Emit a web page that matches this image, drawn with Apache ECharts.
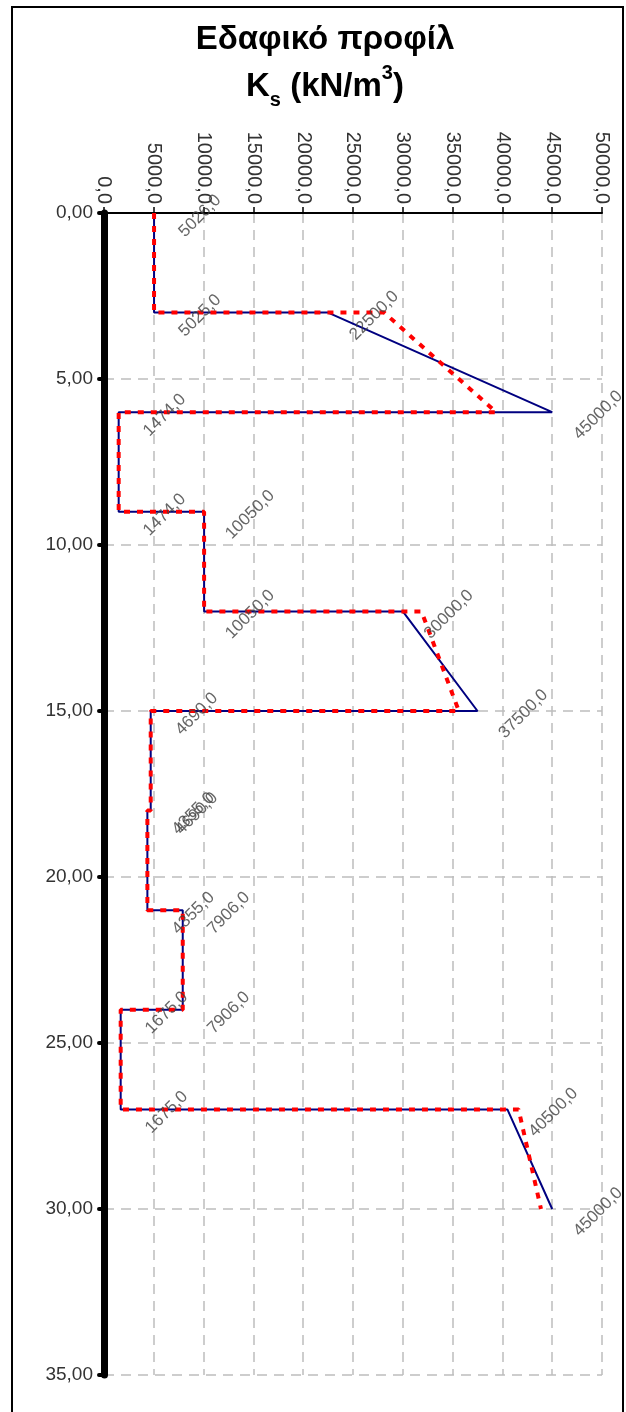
<!DOCTYPE html>
<html>
<head>
<meta charset="utf-8">
<script src="https://cdn.jsdelivr.net/npm/echarts@6/dist/echarts.min.js"></script>
<style>
html,body{margin:0;padding:0;background:#fff;}
#chart{width:626px;height:1412px;}
</style>
</head>
<body>
<div id="chart"></div>
<script>
// Depth (m) and subgrade modulus Ks (kN/m3)
const depthProfile = [0, 3, 3, 6, 6, 9, 9, 12, 12, 15, 15, 18, 18, 21, 21, 24, 24, 27, 27, 30];
const ksProfile = [5026, 5025, 22500, 45000, 1474, 1474, 10050, 10050, 30000, 37500, 4690, 4690, 4355, 4355, 7906, 7906, 1675, 1675, 40500, 45000];
const ksAveraged = [5026, 5025, 28125, 39375, 1474, 1474, 10050, 10050, 31875, 35625, 4690, 4690, 4355, 4355, 7906, 7906, 1675, 1675, 41625, 43875];
const xTicks = [0, 5000, 10000, 15000, 20000, 25000, 30000, 35000, 40000, 45000, 50000];
const yTicks = [0, 5, 10, 15, 20, 25, 30, 35];

const blueData = ksProfile.map((v, i) => [v, depthProfile[i]]);
const redData = ksAveraged.map((v, i) => [v, depthProfile[i]]);
const fmt = (v, d) => v.toFixed(d).replace('.', ',');
const FONT = '"Liberation Sans", Arial, sans-serif';

const chart = echarts.init(document.getElementById('chart'), null, {renderer: 'canvas'});
chart.setOption({
  animation: false,
  backgroundColor: '#fff',
  graphic: [
    {
      type: 'rect', silent: true, z: 100,
      shape: {x: 12, y: 7, width: 611, height: 1410},
      style: {fill: 'none', stroke: '#000', lineWidth: 2}
    },
    {
      type: 'text', silent: true, z: 100, x: 325, y: 16,
      style: {
        text: '{t|Εδαφικό προφίλ}\n{t|K}{sub|s}{t| (kN/m}{sup|3}{t|)}',
        align: 'center', verticalAlign: 'top',
        rich: {
          t: {fontSize: 33, fontWeight: 'bold', fontFamily: FONT, fill: '#000', lineHeight: 47},
          sub: {fontSize: 20, fontWeight: 'bold', fontFamily: FONT, fill: '#000', lineHeight: 22, verticalAlign: 'bottom'},
          sup: {fontSize: 20, fontWeight: 'bold', fontFamily: FONT, fill: '#000', lineHeight: 24, verticalAlign: 'top'}
        }
      }
    }
  ],
  grid: {left: 104, top: 213, width: 498, height: 1162, containLabel: false},
  xAxis: {
    type: 'value', position: 'top', min: 0, max: 50000, interval: 5000,
    axisLine: {show: true, onZero: false, lineStyle: {color: '#000', width: 2}},
    axisTick: {show: true, length: 6, lineStyle: {color: '#000', width: 1.5}},
    axisLabel: {
      rotate: 90, margin: 9, fontSize: 20, fontFamily: FONT, color: '#333',
      formatter: v => xTicks.includes(v) ? fmt(v, 1) : ''
    },
    splitLine: {show: true, lineStyle: {color: '#BDBDBD', width: 1.5, type: [10, 7]}}
  },
  yAxis: {
    type: 'value', inverse: true, min: 0, max: 35, interval: 5,
    axisLine: {show: true, onZero: false, lineStyle: {color: '#000', width: 7}},
    axisTick: {show: true, length: 5, lineStyle: {color: '#000', width: 4, cap: 'round'}},
    axisLabel: {
      margin: 11, fontSize: 19, fontFamily: FONT, color: '#333',
      formatter: v => yTicks.includes(v) ? fmt(v, 2) : ''
    },
    splitLine: {show: true, lineStyle: {color: '#BDBDBD', width: 1.5, type: [10, 7]}}
  },
  series: [
    {
      type: 'line', data: blueData, symbol: 'none', z: 3,
      lineStyle: {color: '#000080', width: 2}
    },
    {
      type: 'line', data: redData, symbol: 'none', z: 4,
      lineStyle: {color: '#FF0000', width: 4, type: [6, 7]}
    },
    {
      type: 'scatter', data: blueData, symbolSize: 2, z: 5,
      itemStyle: {color: 'rgba(0,0,0,0)'},
      label: {
        show: true, rotate: 45, position: [47, 4], align: 'center', verticalAlign: 'middle',
        fontSize: 17, fontFamily: FONT, color: '#404040',
        formatter: p => fmt(p.value[0], 1)
      }
    }
  ]
});
</script>
</body>
</html>
